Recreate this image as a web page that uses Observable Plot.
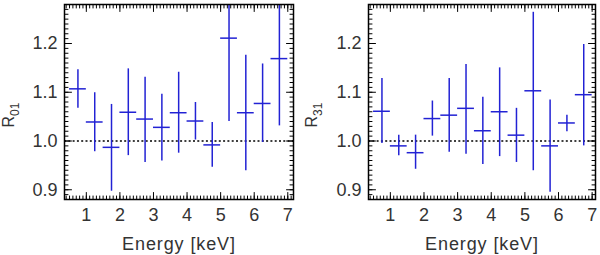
<!DOCTYPE html>
<html><head><meta charset="utf-8">
<script src="https://cdn.jsdelivr.net/npm/d3@7"></script>
<script src="https://cdn.jsdelivr.net/npm/@observablehq/plot@0.6"></script>
<style>
body{margin:0;background:#fff}
#row{display:flex;width:600px;height:255px}
#row>div{width:300px;height:255px}
</style>
</head><body><div id="row"><div id="p1"></div><div id="p2"></div></div>
<script>
// Energy bins (keV)
const binLo = [0.5,1.0,1.5,2.0,2.5,3.0,3.5,4.0,4.5,5.0,5.5,6.0,6.5];
const binHi = [1.0,1.5,2.0,2.5,3.0,3.5,4.0,4.5,5.0,5.5,6.0,6.5,7.0];

// R01 ratio
const r01 = [1.107,1.039,0.987,1.059,1.045,1.028,1.058,1.041,0.992,1.211,1.058,1.077,1.169];
const r01Lo = [1.067,0.978,0.897,0.970,0.956,0.959,0.975,1.002,0.946,1.040,0.939,0.997,1.031];
const r01Hi = [1.146,1.099,1.075,1.148,1.131,1.096,1.141,1.079,1.038,1.382,1.176,1.158,1.307];

// R31 ratio
const r31 = [1.061,0.990,0.976,1.046,1.053,1.067,1.021,1.060,1.012,1.103,0.990,1.037,1.095];
const r31Lo = [0.995,0.970,0.942,1.010,0.977,0.973,0.952,0.968,0.956,0.939,0.895,1.019,0.990];
const r31Hi = [1.128,1.012,1.012,1.082,1.128,1.157,1.090,1.150,1.067,1.264,1.084,1.053,1.198];

// tick labels
const xTicks = [1,2,3,4,5,6,7];
const xTickLabels = ["1","2","3","4","5","6","7"];
const yTicks = [0.9,1.0,1.1,1.2];
const yTickLabels = ["0.9","1.0","1.1","1.2"];
const xLabel = "Energy [keV]";
const refLine = [1.0];

const tickShape = {draw(ctx, l) { ctx.moveTo(0, 0); ctx.lineTo(0, -l); }};
const blue = "#2222d4";
const txt = "#333";

function panel(el, vals, lo, hi, sub, o) {
  const data = vals.map((v, i) => ({e: (binLo[i] + binHi[i]) / 2, a: binLo[i], b: binHi[i], v, lo: lo[i], hi: hi[i]}));
  const ydom = [0.88, 1.28];
  const xMinor = d3.range(1, 80).map(i => i / 10).filter(d => d > o.xdom[0] && d < o.xdom[1]);
  const yMinor = d3.range(88, 129).map(i => i / 100);
  const vec = (arr, ch, anchor, rot, len) => Plot.vector(arr, {[ch]: d => d, frameAnchor: anchor, anchor: "start", rotate: rot, length: len, shape: tickShape, stroke: "black", strokeWidth: 1});
  const chart = Plot.plot({
    width: 300, height: 255,
    marginLeft: o.ml, marginRight: o.mr, marginTop: 4, marginBottom: 56,
    style: {fontFamily: "Liberation Sans", fontSize: "18px", background: "white", color: txt},
    x: {domain: o.xdom, label: null},
    y: {domain: ydom, label: null},
    marks: [
      Plot.ruleY(refLine, {stroke: "black", strokeWidth: 1.7, strokeDasharray: "2,2.3"}),
      Plot.ruleX(data, {x: "e", y1: "lo", y2: "hi", stroke: blue, strokeWidth: 1.5, clip: true}),
      Plot.ruleY(data, {y: "v", x1: "a", x2: "b", stroke: blue, strokeWidth: 1.5, clip: true}),
      vec(xTicks, "x", "bottom", 0, 7), vec(xMinor, "x", "bottom", 0, 3.5),
      vec(xTicks, "x", "top", 180, 7), vec(xMinor, "x", "top", 180, 3.5),
      vec(yTicks, "y", "left", 90, 7), vec(yMinor, "y", "left", 90, 3.5),
      vec(yTicks, "y", "right", -90, 7), vec(yMinor, "y", "right", -90, 3.5),
      Plot.axisX(xTicks, {tickSize: 0, tickPadding: 9, tickFormat: (d, i) => xTickLabels[i], fill: txt, label: null}),
      Plot.axisY(yTicks, {tickSize: 0, tickPadding: 7, tickFormat: (d, i) => yTickLabels[i], fill: txt, label: null}),
      Plot.text([xLabel], {text: d => d, frameAnchor: "bottom", dy: 45, lineAnchor: "middle", fontSize: 18, fill: txt}),
      Plot.frame({stroke: "black", strokeWidth: 1.5})
    ]
  });
  d3.select(chart).selectAll("text").filter(function() { return this.textContent === xLabel; })
    .attr("letter-spacing", "0.9px");
  const t = d3.select(chart).append("text")
    .attr("transform", `translate(${o.lx},115) rotate(-90)`)
    .attr("fill", txt).attr("font-size", 16).attr("font-family", "Liberation Sans");
  t.append("tspan").text("R");
  t.append("tspan").attr("dy", 5).attr("font-size", 12).text(sub);
  document.getElementById(el).appendChild(chart);
}

panel("p1", r01, r01Lo, r01Hi, "01", {ml: 64, mr: 7, xdom: [0.35, 7.17], lx: 14});
panel("p2", r31, r31Lo, r31Hi, "31", {ml: 68, mr: 5, xdom: [0.35, 7.1], lx: 17});
</script>
</body></html>
